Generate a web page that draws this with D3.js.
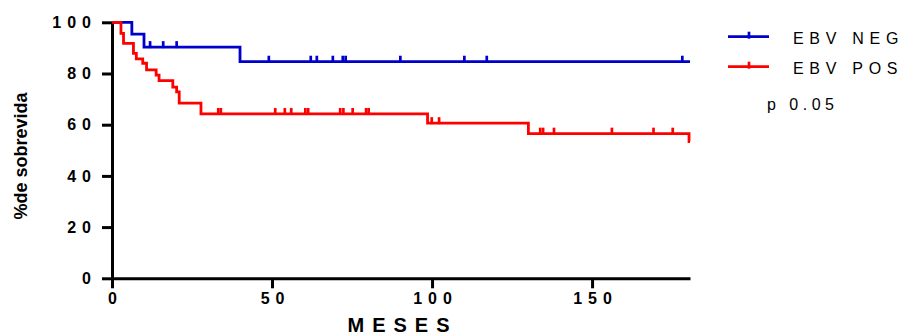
<!DOCTYPE html>
<html>
<head>
<meta charset="utf-8">
<script src="https://cdn.jsdelivr.net/npm/d3@7"></script>
<style>
  body { margin: 0; background: #fff; }
  svg { display: block; font-family: "Liberation Sans", Arial, sans-serif; }
</style>
</head>
<body>
<div class="chart"></div>
<script>
var width = 905,
	height = 334,
	endTime = 180.6;

// survival steps (months, % survival)
var negTimes = [0, 6.2, 10, 40],
	negSurv = [100, 95.4, 90.3, 84.6],
	negCensor = [11.9, 16, 20.2, 49, 62.1, 64, 69, 72.1, 73, 90.1, 110.1, 117.1, 178.2];

var posTimes = [0, 2.8, 3.6, 6.7, 7.6, 9.6, 10.8, 13.8, 14.7, 19, 20.2, 21, 27.8, 98.6, 130.1, 180.3],
	posSurv = [100, 95.7, 91.8, 87.9, 85.7, 84, 81.4, 79.4, 77.2, 74.7, 72.8, 68.4, 64.2, 60.6, 56.5, 53.4],
	posCensor = [33.2, 34, 51, 54, 56, 60.4, 61.3, 71.3, 72.3, 75.2, 79.4, 80.2, 99.9, 102.2, 133.8, 134.7, 138.1, 156.2, 169.2, 175.2];

var xTicks = [0, 50, 100, 150],
	yTicks = [0, 20, 40, 60, 80, 100];

var groups = ["EBV NEG", "EBV POS"],
	colors = ["#0000cc", "#ff0000"];

var svg = d3.select("div.chart")
	.append("svg")
	.attr("width", width)
	.attr("height", height);

var x = d3.scaleLinear()
			.domain([0, endTime])
			.range([112, 690]),
	y = d3.scaleLinear()
			.domain([0, 100])
			.range([278.3, 22.3]);

// axes
var xAxis = svg.append("g")
	.attr("transform", "translate(0," + y(0) + ")")
	.call(d3.axisBottom(x).tickValues(xTicks).tickSize(10).tickSizeOuter(0).tickPadding(4));

var yAxis = svg.append("g")
	.attr("transform", "translate(" + x(0) + ",0)")
	.call(d3.axisLeft(y).tickValues(yTicks).tickSize(10).tickSizeOuter(0).tickPadding(5));

svg.selectAll(".domain, .tick line")
	.attr("stroke", "#000")
	.attr("stroke-width", 3);

svg.selectAll(".tick text")
	.attr("fill", "#000")
	.style("font-size", "16px")
	.style("font-weight", "bold")
	.style("letter-spacing", "6px")
	.attr("font-family", null);

xAxis.selectAll(".tick text").attr("dx", 3);

svg.append("text")
	.attr("x", 402.5)
	.attr("y", 331.5)
	.attr("text-anchor", "middle")
	.style("font-size", "20px")
	.style("font-weight", "bold")
	.style("letter-spacing", "8px")
	.text("MESES");

svg.append("text")
	.attr("transform", "translate(26.5,156) rotate(-90)")
	.attr("text-anchor", "middle")
	.style("font-size", "18px")
	.style("font-weight", "bold")
	.text("%de sobrevida");

// curves
function stepPoints(times, surv){
	var pts = times.map(function(t, i){ return [t, surv[i]]; });
	pts.push([endTime, surv[surv.length - 1]]);
	return pts;
}

function levelAt(times, surv, t){
	var i = d3.bisectRight(times, t) - 1;
	return surv[Math.max(i, 0)];
}

var line = d3.line()
	.x(function(d){ return x(d[0]); })
	.y(function(d){ return y(d[1]); })
	.curve(d3.curveStepAfter);

var series = [
	{times: negTimes, surv: negSurv, censor: negCensor, color: colors[0]},
	{times: posTimes, surv: posSurv, censor: posCensor, color: colors[1]}
];

series.forEach(function(s){
	svg.append("path")
		.attr("d", line(stepPoints(s.times, s.surv)))
		.attr("fill", "none")
		.attr("stroke", s.color)
		.attr("stroke-width", 2.8);

	svg.selectAll(null)
		.data(s.censor)
		.enter()
		.append("line")
		.attr("x1", function(d){ return x(d); })
		.attr("x2", function(d){ return x(d); })
		.attr("y1", function(d){ return y(levelAt(s.times, s.surv, d)) - 6; })
		.attr("y2", function(d){ return y(levelAt(s.times, s.surv, d)) + 1; })
		.attr("stroke", s.color)
		.attr("stroke-width", 2.7);
});

// legend
var legend = svg.append("g");
groups.forEach(function(g, i){
	var ly = 36.7 + i * 30;
	legend.append("line")
		.attr("x1", 728).attr("x2", 769)
		.attr("y1", ly).attr("y2", ly)
		.attr("stroke", colors[i])
		.attr("stroke-width", 2.7);
	legend.append("line")
		.attr("x1", 749).attr("x2", 749)
		.attr("y1", ly - 5).attr("y2", ly + 2)
		.attr("stroke", colors[i])
		.attr("stroke-width", 2.7);
	legend.append("text")
		.attr("x", 793)
		.attr("y", ly + 7.3)
		.style("font-size", "16px")
		.style("letter-spacing", "5.7px")
		.text(g);
});

legend.append("text")
	.attr("x", 767)
	.attr("y", 110)
	.style("font-size", "16px")
	.style("letter-spacing", "4.5px")
	.text("p 0.05");
</script>
</body>
</html>
